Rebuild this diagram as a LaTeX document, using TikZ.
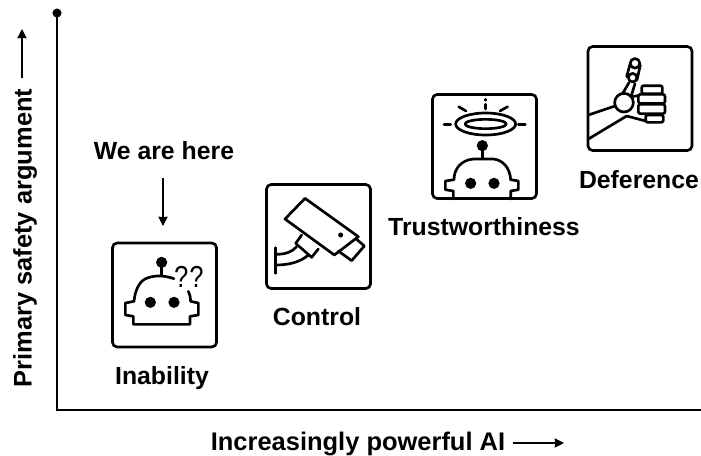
\documentclass[tikz,border=0pt]{standalone}
\usepackage{fontspec}
\setmainfont{Liberation Sans}
\setmonofont{Liberation Mono}
\usetikzlibrary{arrows.meta}
\tikzset{
  iconbox/.style={draw, line width=2pt, rounded corners=3.5pt, minimum size=78pt, inner sep=0pt},
  iconline/.style={line width=2pt, line join=round, line cap=round},
  biglabel/.style={font=\bfseries\fontsize{18.6}{22}\selectfont, inner sep=0pt},
  axislabel/.style={font=\bfseries\fontsize{19.1}{22}\selectfont, inner sep=0pt},
  arrowline/.style={line width=1pt, -{Stealth[length=7pt,width=7pt,inset=.5pt]}},
  zoomed/.style={x=.25pt,y=-.25pt}
}
\begin{document}
\begin{tikzpicture}[x=.75pt,y=-.75pt]
         \useasboundingbox (0,0) rectangle (701,455);

         \coordinate (Top) at (57,13);
         \coordinate (Corner) at (57,410);
         \coordinate (Right) at (701,410);
         \fill (Top) circle (3.4pt);
         \draw[line width=1.3pt] (Top) -- (Corner) -- (Right);

         \node[iconbox] (Inability) at (164.5,295) {};
         \node[iconbox] (Control) at (318.5,236.5) {};
         \node[iconbox] (Trust) at (484.5,146.5) {};
         \node[iconbox] (Deference) at (640,98.5) {};

         \node[biglabel] (InabilityText) at (162,378) {Inability};
         \node[biglabel] (ControlText) at (317,317) {Control};
         \node[biglabel] (TrustText) at (484,227) {Trustworthiness};
         \node[biglabel] (DeferenceText) at (639,180) {Deference};
         \node[biglabel] (Here) at (164,151) {We are here};
         \node[axislabel] (XText) at (358,444) {Increasingly powerful AI};
         \node[axislabel, rotate=90] (YText) at (25,238) {Primary safety argument};

         \coordinate (HereEnd) at (163,226);
         \coordinate (HereStart) at (163,178);
         \coordinate (XStart) at (513,443);
         \coordinate (XEnd) at (564,443);
         \coordinate (YStart) at (22,78);
         \coordinate (YEnd) at (22,29);
         \draw[arrowline] (HereStart) -- (HereEnd);
         \draw[arrowline] (XStart) -- (XEnd);
         \draw[arrowline] (YStart) -- (YEnd);

         \begin{scope}[shift={(100,230)},zoomed,iconline]
            \fill (185,97) circle (4.2pt);
            \draw (185,110) -- (185,136);
            \draw (222,146) .. controls (190,135) and (160,135) .. (135,147) .. controls (115,158) and (105,185) .. (102,214) -- (76,219) -- (76,255) -- (100,259) -- (100,283) -- (270,283) -- (270,259) -- (295,255) -- (295,219) -- (272,214) .. controls (272,205) and (270,195) .. (265,184);
            \fill (151,217) circle (4.2pt);
            \fill (222,217) circle (4.2pt);
            \node[font=\ttfamily\fontsize{19}{19}\selectfont, yscale=1.25, inner sep=0pt] (Unsure) at (268,142) {??};
         \end{scope}

         \begin{scope}[shift={(255,175)},zoomed,iconline]
            \draw (150,70) -- (310,185) -- (238,240) -- (90,132) -- cycle;
            \draw (305,193) -- (328,213) -- (290,257) -- (250,228);
            \fill (257,180) circle (1.9pt);
            \draw (140,180) -- (122,205) -- (170,247) -- (190,222);
            \draw (62,238) .. controls (90,238) and (110,232) .. (125,215);
            \draw (62,270) .. controls (100,270) and (135,262) .. (160,240);
            \draw (62,218) -- (62,295);
         \end{scope}

         \begin{scope}[shift={(420,85)},zoomed,iconline]
            \draw (197,117) ellipse [x radius=90, y radius=33];
            \draw (197,117) ellipse [x radius=62, y radius=14];
            \draw (197,43) -- (197,46);
            \draw (197,58) -- (197,72);
            \draw (116,65) -- (138,78);
            \draw (263,65) -- (240,78);
            \draw (72,118) -- (92,118);
            \draw (295,118) -- (316,118);
            \fill (187,182) circle (4.2pt);
            \draw (187,195) -- (187,222);
            \draw (100,342) -- (100,318) -- (76,314) -- (76,288) -- (102,284) .. controls (102,250) and (125,225) .. (160,222) -- (220,222) .. controls (250,225) and (270,250) .. (272,284) -- (295,288) -- (295,314) -- (272,318) -- (272,342);
            \fill (152,295) circle (4.2pt);
            \fill (222,295) circle (4.2pt);
         \end{scope}

         \begin{scope}[shift={(575,35)},zoomed,iconline]
            \draw (40,240) -- (120,213);
            \draw (40,312) -- (155,243);
            \draw (147,203) circle (7pt);
            \draw (180,85) circle (3.6pt);
            \draw (173,128) circle (3.2pt);
            \draw (165,88) -- (155,125);
            \draw (196,90) -- (186,135);
            \draw (162,143) -- (143,175);
            \draw (180,146) -- (168,185);
            \draw (168,185) -- (190,182);
            \draw (155,243) -- (212,258);
            \draw[rounded corners=1.5pt] (200,152) rectangle (262,176);
            \draw[rounded corners=1.5pt] (190,178) rectangle (270,205);
            \draw[rounded corners=1.5pt] (190,208) rectangle (270,236);
            \draw[rounded corners=1.5pt] (212,240) rectangle (265,262);
         \end{scope}
      \end{tikzpicture}
\end{document}
